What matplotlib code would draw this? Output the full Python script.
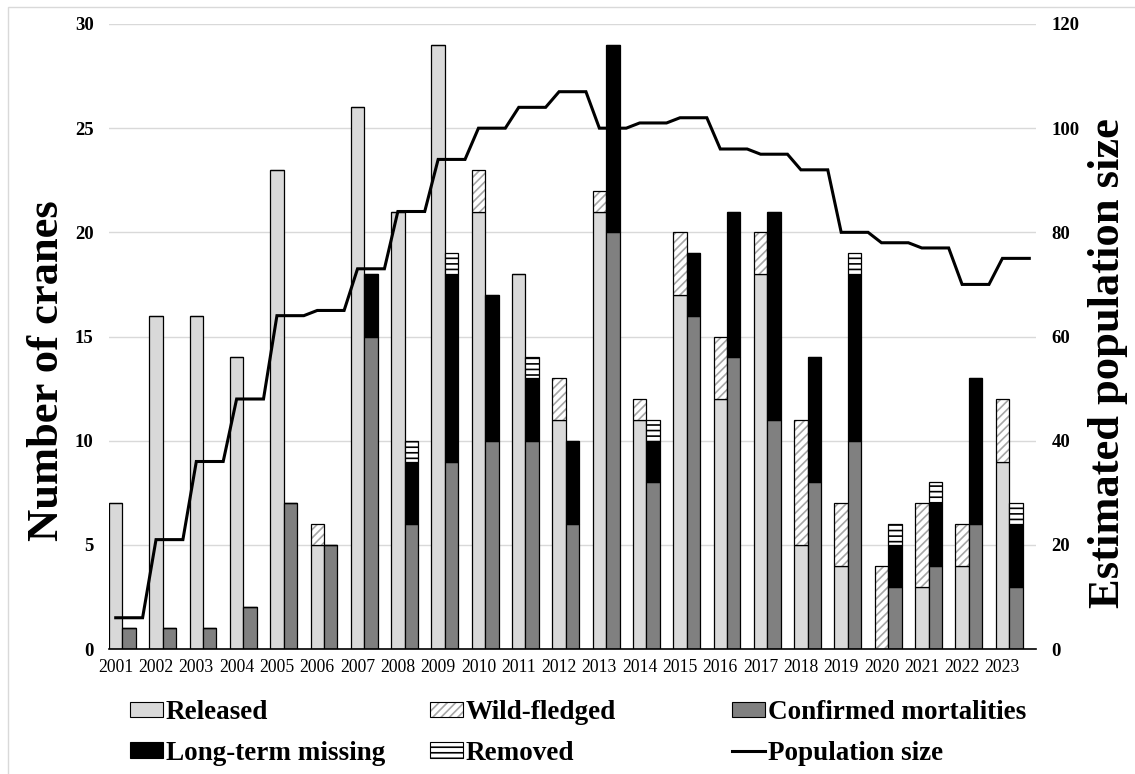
import numpy as np
import matplotlib
matplotlib.use('Agg')
import matplotlib.pyplot as plt
from matplotlib.patches import Patch, Rectangle
from matplotlib.lines import Line2D
from matplotlib.legend_handler import HandlerTuple

plt.rcParams['font.family'] = 'Liberation Serif'
plt.rcParams['hatch.linewidth'] = 1.2

# data
years = ['2001', '2002', '2003', '2004', '2005', '2006', '2007', '2008', '2009', '2010', '2011', '2012',
         '2013', '2014', '2015', '2016', '2017', '2018', '2019', '2020', '2021', '2022', '2023']
released = [7, 16, 16, 14, 23, 5, 26, 21, 29, 21, 18, 11, 21, 11, 17, 12, 18, 5, 4, 0, 3, 4, 9]
wild_fledged = [0, 0, 0, 0, 0, 1, 0, 0, 0, 2, 0, 2, 1, 1, 3, 3, 2, 6, 3, 4, 4, 2, 3]
mortalities = [1, 1, 1, 2, 7, 5, 15, 6, 9, 10, 10, 6, 20, 8, 16, 14, 11, 8, 10, 3, 4, 6, 3]
missing = [0, 0, 0, 0, 0, 0, 3, 3, 9, 7, 3, 4, 9, 2, 3, 7, 10, 6, 8, 2, 3, 7, 3]
removed = [0, 0, 0, 0, 0, 0, 0, 1, 1, 0, 1, 0, 0, 1, 0, 0, 0, 0, 1, 1, 1, 0, 1]
population = [6, 21, 36, 48, 64, 65, 73, 84, 94, 100, 104, 107, 100, 101, 102, 96, 95, 92, 80, 78, 77, 70, 75]

C_REL = '#d9d9d9'
C_HATCH = '#a6a6a6'
C_MORT = '#808080'

W, H = 1135, 774
fig = plt.figure(figsize=(W / 100, H / 100), dpi=100)
ax = fig.add_axes([109 / W, 1 - 649 / H, (1036 - 109) / W, (649 - 24) / H])

x = np.arange(len(years))
w = 1 / 3
xr = x + w / 2          # released / wild-fledged column
xm = x + 1.5 * w        # losses column

rel = np.array(released)
mort = np.array(mortalities)
miss = np.array(missing)

# left column: released + wild-fledged
ax.bar(xr, rel, w, color=C_REL, edgecolor='black', lw=0.9)
ax.bar(xr, wild_fledged, w, bottom=rel, color='white', edgecolor=C_HATCH, hatch='////', lw=0)
ax.bar(xr, wild_fledged, w, bottom=rel, fill=False, edgecolor='black', lw=0.9)

# right column: mortalities + missing + removed
ax.bar(xm, mort, w, color=C_MORT, edgecolor='black', lw=0.9)
ax.bar(xm, miss, w, bottom=mort, color='black', edgecolor='black', lw=0.9)
ax.bar(xm, removed, w, bottom=mort + miss, color='white', edgecolor='black', hatch='---', lw=0.9)

ax.set_xlim(0, len(years))
ax.set_ylim(0, 30)
ax.set_yticks(range(0, 31, 5))
ax.set_xticks(xr, years)
ax.yaxis.grid(True, color='#d9d9d9', lw=1.0)
ax.set_axisbelow(True)
for s in ['left', 'right', 'top']:
    ax.spines[s].set_visible(False)
ax.spines['bottom'].set_linewidth(1.2)
ax.tick_params(axis='x', length=0, pad=7, labelsize=12.7)
ax.tick_params(axis='y', length=0, pad=11, labelsize=13.5)
for lbl in ax.get_yticklabels():
    lbl.set_fontweight('bold')

# population line on the right axis
ax2 = ax.twinx()
xl = np.column_stack([x + w / 2, x + 2.5 * w]).ravel()
yl = np.repeat(population, 2)
ax2.plot(xl, yl, color='black', lw=2.2, solid_joinstyle='miter')
ax2.set_ylim(0, 120)
ax2.set_yticks(range(0, 121, 20))
for s in ax2.spines.values():
    s.set_visible(False)
ax2.tick_params(axis='y', length=0, pad=11, labelsize=13.5)
for lbl in ax2.get_yticklabels():
    lbl.set_fontweight('bold')

fig.text(47 / W, 1 - 371 / H, 'Number of cranes', rotation=90, ha='center', va='center',
         fontsize=32, fontweight='bold')
fig.text(1108 / W, 1 - 363 / H, 'Estimated population size', rotation=90, ha='center', va='center',
         fontsize=32, fontweight='bold')

# legend, three evenly spaced columns
h_rel = Patch(facecolor=C_REL, edgecolor='black', lw=0.8)
h_wild = (Patch(facecolor='white', edgecolor=C_HATCH, hatch='////', lw=0),
          Patch(fill=False, edgecolor='black', lw=0.8))
h_mort = Patch(facecolor=C_MORT, edgecolor='black', lw=0.8)
h_miss = Patch(facecolor='black', edgecolor='black', lw=0.8)
h_rem = Patch(facecolor='white', edgecolor='black', hatch='---', lw=0.8)
h_pop = Line2D([], [], color='black', lw=2.2)

cols = [([h_rel, h_miss], ['Released', 'Long-term missing'], 130),
        ([h_wild, h_rem], ['Wild-fledged', 'Removed'], 430),
        ([h_mort, h_pop], ['Confirmed mortalities', 'Population size'], 732)]
for handles, labels, x0 in cols:
    fig.legend(handles, labels, loc='upper left', bbox_to_anchor=(x0 / W, 1 - 700 / H),
               frameon=False, prop={'weight': 'bold', 'size': 19.5},
               handlelength=1.22, handleheight=0.5, handletextpad=0.1,
               labelspacing=0.58, borderpad=0, borderaxespad=0,
               handler_map={tuple: HandlerTuple(ndivide=1)})

# light chart-area border
fig.add_artist(Rectangle((8 / W, -0.1), 1.2, 1 - 7 / H + 0.1, transform=fig.transFigure,
                         fill=False, edgecolor='#d9d9d9', lw=1.0))

fig.savefig('out.png', dpi=100)
